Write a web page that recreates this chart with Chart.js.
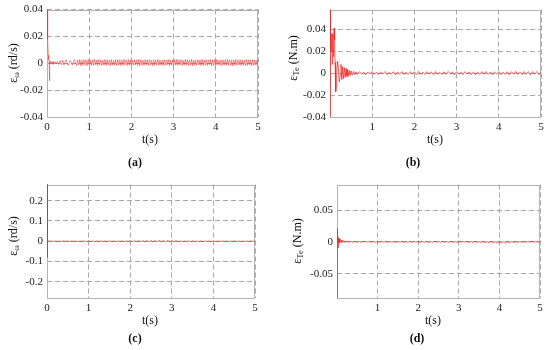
<!DOCTYPE html>
<html>
<head>
<meta charset="utf-8">
<script src="https://cdn.jsdelivr.net/npm/chart.js@4/dist/chart.umd.min.js"></script>
<style>
  html, body { margin: 0; padding: 0; background: #fff; }
  #wrap { position: relative; width: 550px; height: 350px; overflow: hidden; font-family: "Liberation Serif", "DejaVu Serif", serif; color: #111; }
  canvas { position: absolute; }
  .lbl { position: absolute; white-space: nowrap; transform: translate(-50%, -50%); font-size: 12px; line-height: 1; }
  .ylab { transform: translate(-50%, -50%) rotate(-90deg); }
  .cap { font-weight: bold; }
  sub { font-size: 72%; vertical-align: -0.25em; line-height: 0; }
</style>
</head>
<body>
<div id="wrap">
  <canvas id="ca" width="275" height="175" style="left:0;top:0;width:275px;height:175px"></canvas>
  <canvas id="cb" width="275" height="175" style="left:275px;top:0;width:275px;height:175px"></canvas>
  <canvas id="cc" width="275" height="175" style="left:0;top:175px;width:275px;height:175px"></canvas>
  <canvas id="cd" width="275" height="175" style="left:275px;top:175px;width:275px;height:175px"></canvas>

  <div class="lbl ylab" style="left:13px;top:63px">ε<sub>ω</sub> (rd/s)</div>
  <div class="lbl ylab" style="left:293px;top:58px">ε<sub>Te</sub> (N.m)</div>
  <div class="lbl ylab" style="left:13px;top:236px">ε<sub>ω</sub> (rd/s)</div>
  <div class="lbl ylab" style="left:297px;top:241px">ε<sub>Te</sub> (N.m)</div>

  <div class="lbl" style="left:150px;top:139px">t(s)</div>
  <div class="lbl" style="left:435px;top:139px">t(s)</div>
  <div class="lbl" style="left:150px;top:320px">t(s)</div>
  <div class="lbl" style="left:433px;top:320px">t(s)</div>

  <div class="lbl cap" style="left:135px;top:162px">(a)</div>
  <div class="lbl cap" style="left:413px;top:162px">(b)</div>
  <div class="lbl cap" style="left:135px;top:338px">(c)</div>
  <div class="lbl cap" style="left:417px;top:338px">(d)</div>
</div>
<script>
// ---------- tick values and labels ----------
const xTicksFull = [0, 1, 2, 3, 4, 5];
const xTicksNoZero = [1, 2, 3, 4, 5];
const yTicksA = [-0.04, -0.02, 0, 0.02, 0.04];
const yLabelsA = ['-0.04', '-0.02', '0', '0.02', '0.04'];
const yTicksB = [-0.04, -0.02, 0, 0.02, 0.04];
const yLabelsB = ['-0.04', '-0.02', '0', '0.02', '0.04'];
const yTicksC = [-0.2, -0.1, 0, 0.1, 0.2];
const yLabelsC = ['-0.2', '-0.1', '0', '0.1', '0.2'];
const yTicksD = [-0.05, 0, 0.05];
const yLabelsD = ['-0.05', '0', '0.05'];

// ---------- shared steady-state time samples (s) ----------
const timeTail = [
  0.70,0.75,0.80,0.85,0.90,0.95,1.00,1.05,1.10,1.15,
  1.20,1.25,1.30,1.35,1.40,1.45,1.50,1.55,1.60,1.65,
  1.70,1.75,1.80,1.85,1.90,1.95,2.00,2.05,2.10,2.15,
  2.20,2.25,2.30,2.35,2.40,2.45,2.50,2.55,2.60,2.65,
  2.70,2.75,2.80,2.85,2.90,2.95,3.00,3.05,3.10,3.15,
  3.20,3.25,3.30,3.35,3.40,3.45,3.50,3.55,3.60,3.65,
  3.70,3.75,3.80,3.85,3.90,3.95,4.00,4.05,4.10,4.15,
  4.20,4.25,4.30,4.35,4.40,4.45,4.50,4.55,4.60,4.65,
  4.70,4.75,4.80,4.85,4.90,4.95,5.00
];

// denser steady-state samples for panel (a)
const timeTailA = [
  0.700,0.725,0.750,0.775,0.800,0.825,0.850,0.875,
  0.900,0.925,0.950,0.975,1.000,1.025,1.050,1.075,
  1.100,1.125,1.150,1.175,1.200,1.225,1.250,1.275,
  1.300,1.325,1.350,1.375,1.400,1.425,1.450,1.475,
  1.500,1.525,1.550,1.575,1.600,1.625,1.650,1.675,
  1.700,1.725,1.750,1.775,1.800,1.825,1.850,1.875,
  1.900,1.925,1.950,1.975,2.000,2.025,2.050,2.075,
  2.100,2.125,2.150,2.175,2.200,2.225,2.250,2.275,
  2.300,2.325,2.350,2.375,2.400,2.425,2.450,2.475,
  2.500,2.525,2.550,2.575,2.600,2.625,2.650,2.675,
  2.700,2.725,2.750,2.775,2.800,2.825,2.850,2.875,
  2.900,2.925,2.950,2.975,3.000,3.025,3.050,3.075,
  3.100,3.125,3.150,3.175,3.200,3.225,3.250,3.275,
  3.300,3.325,3.350,3.375,3.400,3.425,3.450,3.475,
  3.500,3.525,3.550,3.575,3.600,3.625,3.650,3.675,
  3.700,3.725,3.750,3.775,3.800,3.825,3.850,3.875,
  3.900,3.925,3.950,3.975,4.000,4.025,4.050,4.075,
  4.100,4.125,4.150,4.175,4.200,4.225,4.250,4.275,
  4.300,4.325,4.350,4.375,4.400,4.425,4.450,4.475,
  4.500,4.525,4.550,4.575,4.600,4.625,4.650,4.675,
  4.700,4.725,4.750,4.775,4.800,4.825,4.850,4.875,
  4.900,4.925,4.950,4.975,5.000
];

// ---------- (a) speed error ----------
const timeHeadA = [0,0.01,0.02,0.03,0.04,0.05,0.055,0.06,0.065,0.07,0.08,0.09,0.1,0.12,0.14,0.16,0.18,0.2,0.22,0.25,0.28,0.31,0.34,0.37,0.4,0.45,0.5,0.55,0.6,0.65];
const errHeadA = [0.045,0.036,0.018,0.006,0.003,0.001,-0.013,-0.005,0.002,0.0015,0.0004,0.0012,-0.0005,0.0011,-0.0008,0.0013,-0.0006,0.0010,-0.0004,0.0014,-0.0009,0.0019,-0.0011,0.0023,-0.0014,0.0025,-0.0017,0.0021,-0.0013,0.0027];
const errTailA = [
  -0.0016,0.0025,-0.0013,0.0028,-0.0018,0.0023,-0.0015,0.0027,
  -0.0012,0.0024,-0.0019,0.0029,-0.0014,0.0022,-0.0017,0.0026,
  -0.0015,0.0028,-0.0011,0.0024,-0.0018,0.0027,-0.0013,0.0025,
  -0.0017,0.0023,-0.0014,0.0029,-0.0016,0.0026,-0.0012,0.0024,
  -0.0019,0.0027,-0.0015,0.0022,-0.0013,0.0028,-0.0017,0.0025,
  -0.0014,0.0026,-0.0018,0.0024,-0.0016,0.0029,-0.0012,0.0023,
  -0.0017,0.0028,-0.0015,0.0025,-0.0019,0.0022,-0.0014,0.0027,
  -0.0013,0.0024,-0.0016,0.0029,-0.0018,0.0026,-0.0015,0.0023,
  -0.0016,0.0027,-0.0012,0.0025,-0.0017,0.0028,-0.0014,0.0022,
  -0.0019,0.0026,-0.0015,0.0024,-0.0013,0.0029,-0.0017,0.0025,
  -0.0014,0.0023,-0.0018,0.0027,-0.0016,0.0024,-0.0012,0.0028,
  -0.0017,0.0025,-0.0015,0.0022,-0.0019,0.0026,-0.0014,0.0029,
  -0.0016,0.0024,-0.0013,0.0027,-0.0018,0.0023,-0.0015,0.0028,
  -0.0012,0.0026,-0.0017,0.0025,-0.0014,0.0029,-0.0019,0.0024,
  -0.0015,0.0022,-0.0016,0.0027,-0.0013,0.0025,-0.0018,0.0028,
  -0.0017,0.0024,-0.0014,0.0026,-0.0016,0.0023,-0.0012,0.0029,
  -0.0019,0.0027,-0.0015,0.0025,-0.0017,0.0028,-0.0013,0.0022,
  -0.0016,0.0026,-0.0018,0.0024,-0.0014,0.0027,-0.0015,0.0029,
  -0.0013,0.0025,-0.0017,0.0023,-0.0019,0.0026,-0.0016,0.0028,
  -0.0015,0.0024,-0.0012,0.0027,-0.0018,0.0025,-0.0014,0.0022,
  -0.0017,0.0028,-0.0016,0.0026,-0.0013,0.0024,-0.0019,0.0027,
  -0.0015,0.0025,-0.0014,0.0023,-0.0016
];

// ---------- (b) torque error ----------
const timeHeadB = [0,0.003,0.01,0.02,0.03,0.04,0.05,0.06,0.07,0.08,0.09,0.1,0.11,0.12,0.13,0.14,0.15,0.16,0.17,0.18,0.2,0.22,0.24,0.26,0.28,0.3,0.32,0.34,0.36,0.38,0.4,0.42,0.44,0.46,0.48,0.5,0.53,0.56,0.59,0.62,0.65];
const errHeadB = [-0.05,0.065,0.012,0.033,0.02,0.036,0.008,0.03,0.036,0.015,0.038,0.041,0.03,0.01,-0.008,-0.017,-0.012,-0.002,0.006,0.011,0.004,-0.008,-0.002,0.008,-0.006,0.006,-0.005,0.005,-0.004,0.004,-0.003,0.003,-0.003,0.0025,-0.002,0.002,-0.0018,0.0015,-0.0014,0.0012,-0.001];
const errTailB = [
  0.0013,-0.0010,0.0008,-0.0014,0.0011,-0.0007,0.0015,-0.0011,0.0009,-0.0013,
  0.0012,-0.0008,0.0014,-0.0012,0.0007,-0.0010,0.0013,-0.0015,0.0010,-0.0009,
  0.0014,-0.0011,0.0008,-0.0013,0.0012,-0.0007,0.0011,-0.0014,0.0015,-0.0010,
  0.0009,-0.0012,0.0013,-0.0008,0.0011,-0.0015,0.0014,-0.0009,0.0008,-0.0013,
  0.0012,-0.0011,0.0015,-0.0007,0.0010,-0.0014,0.0013,-0.0010,0.0009,-0.0012,
  0.0014,-0.0008,0.0011,-0.0013,0.0012,-0.0015,0.0008,-0.0011,0.0013,-0.0009,
  0.0015,-0.0012,0.0010,-0.0014,0.0011,-0.0008,0.0014,-0.0013,0.0009,-0.0011,
  0.0012,-0.0015,0.0013,-0.0010,0.0016,-0.0012,0.0011,-0.0014,0.0015,-0.0009,
  0.0013,-0.0016,0.0014,-0.0011,0.0015,-0.0013,0.0012
];

// ---------- (c) speed error ----------
const timeHeadC = [0,0.004,0.01,0.02,0.04,0.06,0.08,0.1,0.13,0.16,0.2,0.25,0.3,0.35,0.4,0.45,0.5,0.55,0.6,0.65];
const errHeadC = [0.3,-0.08,0.01,-0.004,0.003,-0.002,0.002,-0.0015,0.0015,-0.001,0.0012,-0.0012,0.001,-0.0012,0.0014,-0.001,0.0012,-0.0013,0.0011,-0.001];
const errTailC = [
  0.0012,-0.0015,0.0010,-0.0013,0.0016,-0.0011,0.0014,-0.0012,0.0011,-0.0016,
  0.0013,-0.0010,0.0015,-0.0014,0.0012,-0.0011,0.0016,-0.0013,0.0010,-0.0015,
  0.0014,-0.0012,0.0011,-0.0016,0.0013,-0.0010,0.0022,-0.0018,0.0020,-0.0021,
  0.0024,-0.0019,0.0026,-0.0022,0.0028,-0.0025,0.0034,-0.0028,0.0036,-0.0030,
  0.0038,-0.0029,0.0040,-0.0031,0.0037,-0.0027,0.0030,-0.0020,0.0022,-0.0016,
  0.0015,-0.0013,0.0012,-0.0015,0.0014,-0.0011,0.0016,-0.0012,0.0013,-0.0014,
  0.0011,-0.0016,0.0015,-0.0012,0.0013,-0.0010,0.0014,-0.0015,0.0012,-0.0013,
  0.0016,-0.0011,0.0013,-0.0014,0.0010,-0.0012,0.0015,-0.0013,0.0011,-0.0016,
  0.0014,-0.0012,0.0013,-0.0011,0.0015,-0.0010,0.0012
];

// ---------- (d) torque error ----------
const timeHeadD = [0,0.006,0.012,0.02,0.026,0.032,0.04,0.05,0.06,0.07,0.08,0.1,0.12,0.14,0.16,0.18,0.2,0.23,0.26,0.3,0.35,0.4,0.45,0.5,0.55,0.6,0.65];
const errHeadD = [-0.095,0.004,0.021,0.018,-0.009,0.004,0.007,-0.002,0.005,0.001,0.004,-0.001,0.003,-0.0005,0.002,-0.001,0.0015,-0.0008,0.0012,-0.0007,0.001,-0.0008,0.0009,-0.0007,0.0008,-0.0006,0.0007];
const errTailD = [
  0.0007,-0.0006,0.0008,-0.0005,0.0006,-0.0008,0.0007,-0.0006,0.0009,-0.0005,
  0.0006,-0.0007,0.0008,-0.0006,0.0005,-0.0008,0.0007,-0.0005,0.0009,-0.0007,
  0.0006,-0.0008,0.0007,-0.0006,0.0008,-0.0005,0.0006,-0.0009,0.0007,-0.0006,
  0.0008,-0.0007,0.0005,-0.0008,0.0009,-0.0006,0.0007,-0.0005,0.0006,-0.0008,
  0.0007,-0.0009,0.0008,-0.0006,0.0005,-0.0007,0.0006,-0.0008,0.0009,-0.0005,
  0.0007,-0.0006,0.0008,-0.0009,0.0006,-0.0007,0.0005,-0.0008,0.0007,-0.0010,
  0.0004,-0.0012,0.0003,-0.0014,0.0002,-0.0016,0.0001,-0.0017,0.0002,-0.0015,
  0.0003,-0.0013,0.0005,-0.0010,0.0006,-0.0008,0.0007,-0.0006,0.0008,-0.0007,
  0.0006,-0.0005,0.0008,-0.0007,0.0006,-0.0008,0.0007
];

// ---------- drawing ----------
const boxPlugin = {
  id: 'box',
  beforeDatasetsDraw(chart) {
    const a = chart.chartArea, ctx = chart.ctx;
    ctx.save();
    ctx.strokeStyle = '#b4b4b4';
    ctx.lineWidth = 1;
    ctx.strokeRect(Math.round(a.left) + 0.5, Math.round(a.top) + 0.5,
                   Math.round(a.right - a.left) - 1, Math.round(a.bottom - a.top) - 1);
    ctx.restore();
  }
};

function pairs(t, v) { return t.map((x, i) => ({ x: x, y: v[i] })); }

function makePanel(id, times, values, xTicks, yTicks, yLabels, yMin, yMax, L, T, R, B, color) {
  const ctx = document.getElementById(id);
  const tickFont = { family: "'Liberation Serif', 'Times New Roman', serif", size: 11, lineHeight: 1 };
  new Chart(ctx, {
    type: 'scatter',
    data: {
      datasets: [{
        data: pairs(times, values),
        showLine: true,
        borderColor: color,
        borderWidth: 1,
        pointRadius: 0,
        tension: 0,
        fill: false
      }]
    },
    options: {
      responsive: false,
      animation: false,
      events: [],
      layout: { padding: { left: 0, top: T, right: R, bottom: 0 } },
      plugins: { legend: { display: false }, tooltip: { enabled: false } },
      scales: {
        x: {
          type: 'linear', min: 0, max: 5,
          afterBuildTicks: s => { s.ticks = xTicks.map(v => ({ value: v })); },
          afterFit: s => { s.height = 175 - B; },
          ticks: { autoSkip: false, maxRotation: 0, padding: 5, color: '#222', font: tickFont,
                   callback: v => String(v) },
          grid: { color: '#a8a8a8', lineWidth: 1, drawTicks: false },
          border: { display: false, dash: [5, 3] }
        },
        y: {
          type: 'linear', min: yMin, max: yMax,
          afterBuildTicks: s => { s.ticks = yTicks.map(v => ({ value: v })); },
          afterFit: s => { s.width = L; },
          ticks: { autoSkip: false, padding: 4, color: '#222', font: tickFont,
                   callback: (v, i) => yLabels[i] },
          grid: { color: '#a8a8a8', lineWidth: 1, drawTicks: false },
          border: { display: false, dash: [5, 3] }
        }
      }
    },
    plugins: [boxPlugin]
  });
}

makePanel('ca', timeHeadA.concat(timeTailA), errHeadA.concat(errTailA), xTicksFull, yTicksA, yLabelsA, -0.04, 0.04, 47, 6, 17, 117, 'rgba(240,30,30,0.5)');
makePanel('cb', timeHeadB.concat(timeTail), errHeadB.concat(errTailB), xTicksNoZero, yTicksB, yLabelsB, -0.04, 0.058, 55, 6, 9, 117, 'rgba(240,30,30,0.7)');
makePanel('cc', timeHeadC.concat(timeTail), errHeadC.concat(errTailC), xTicksFull, yTicksC, yLabelsC, -0.28, 0.28, 47, 9, 20, 123, 'rgba(240,30,30,0.7)');
makePanel('cd', timeHeadD.concat(timeTail), errHeadD.concat(errTailD), xTicksNoZero, yTicksD, yLabelsD, -0.088, 0.09, 62, 9, 10, 123, 'rgba(240,30,30,0.7)');
</script>
</body>
</html>
